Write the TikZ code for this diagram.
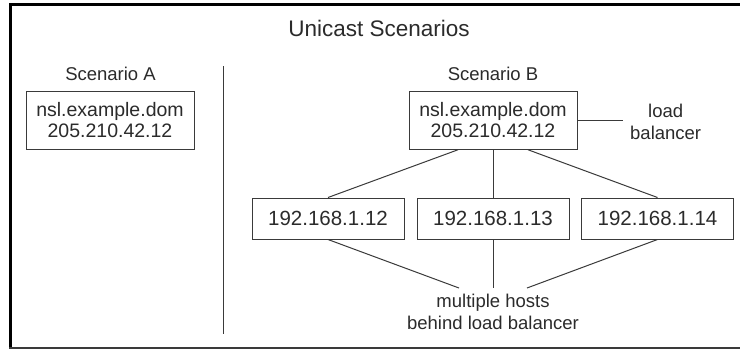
\documentclass[tikz,border=0pt]{standalone}
\usepackage{fontspec}
\setmainfont{Liberation Sans}
\definecolor{ink}{HTML}{2B2B2B}
\definecolor{wire}{HTML}{3A3A3A}
\begin{document}
\begin{tikzpicture}[x=1pt,y=-1pt,
  every node/.style={text=ink},
  hostbox/.style={draw=wire,line width=1pt,minimum width=152pt,minimum height=41pt,inner sep=0pt,font=\fontsize{20.5}{22}\selectfont},
  dnsbox/.style={draw=wire,line width=1pt,minimum width=168pt,minimum height=57.5pt,inner sep=0pt,align=center,font=\fontsize{19.5}{21}\selectfont},
  lbl/.style={font=\fontsize{18.5}{22}\selectfont,align=center},
  wirestyle/.style={draw=wire,line width=1pt}]
\useasboundingbox (0,0) rectangle (740,349);
\fill[white] (0,0) rectangle (740,349);
% frame
\draw[black,line width=3pt] (10.5,3) -- (10.5,349);
\draw[black,line width=3pt] (9,4.5) -- (740,4.5);
\draw[wire,line width=1.5pt] (9,348) -- (740,348);
% title
\node[anchor=base,font=\fontsize{22.5}{26}\selectfont] (title) at (379,36.5) {Unicast Scenarios};
% divider
\draw[wirestyle] (223,66) -- (223,334);
% scenario A
\node[lbl,anchor=base] (sa) at (110.5,80) {Scenario A};
\node[dnsbox] (boxA) at (110,120.5) {nsl.example.dom\\205.210.42.12};
% scenario B
\node[lbl,anchor=base] (sb) at (493,80) {Scenario B};
\node[dnsbox] (boxB) at (493,120.5) {nsl.example.dom\\205.210.42.12};
\node[lbl,anchor=west,inner xsep=7pt] (lb) at (623,122) {load\\balancer};
\draw[wirestyle] (boxB.east) -- (boxB.east -| lb.west);
% hosts
\node[hostbox] (h1) at (328,218.5) {192.168.1.12};
\node[hostbox] (h2) at (493,218.5) {192.168.1.13};
\node[hostbox] (h3) at (657.5,218.5) {192.168.1.14};
\draw[wirestyle] ([xshift=-35pt]boxB.south) -- (h1.north);
\draw[wirestyle] (boxB.south) -- (h2.north);
\draw[wirestyle] ([xshift=35pt]boxB.south) -- (h3.north);
% bottom label
\node[lbl,anchor=north,inner sep=6pt] (hosts) at (493,288) {multiple hosts\\behind load balancer};
\draw[wirestyle] (h1.south) -- ([xshift=-34pt]hosts.north);
\draw[wirestyle] (h2.south) -- (hosts.north);
\draw[wirestyle] (h3.south) -- ([xshift=34pt]hosts.north);
\end{tikzpicture}
\end{document}
